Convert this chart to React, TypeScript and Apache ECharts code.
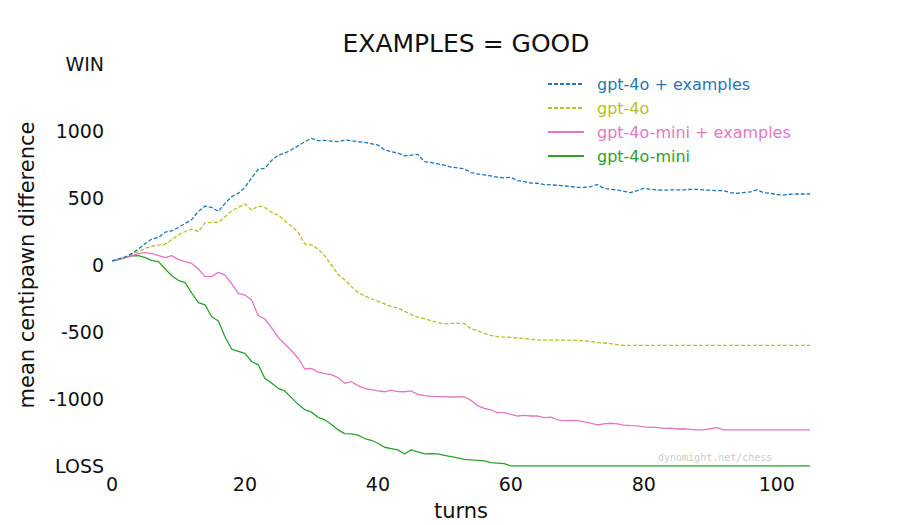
import React, { useEffect, useRef } from "react";
import * as echarts from "echarts";

const seriesNames = ["gpt-4o + examples", "gpt-4o", "gpt-4o-mini + examples", "gpt-4o-mini"];
const seriesColors = ["#1f77b4", "#bcbd22", "#e377c2", "#2ca02c"];
const seriesDashed = [true, true, false, false];

const gpt4oExamples = [
  30, 45, 60, 85, 120, 160, 195, 205, 245, 255, 280, 310, 340, 400, 440, 430, 400, 460, 510, 535,
  580, 650, 715, 722, 780, 820, 835, 860, 890, 920, 945, 928, 930, 925, 920, 933, 928, 920, 915, 905,
  895, 860, 845, 835, 815, 820, 826, 771, 765, 755, 745, 730, 725, 718, 690, 680, 672, 665, 655, 650,
  655, 630, 622, 612, 610, 600, 598, 595, 590, 585, 580, 580, 585, 600, 572, 565, 560, 550, 540, 555,
  572, 565, 560, 558, 560, 560, 560, 565, 565, 560, 558, 555, 555, 540, 535, 540, 545, 560, 540, 535,
  525, 522, 528, 530, 530, 530,
];
const gpt4o = [
  30, 45, 60, 85, 100, 125, 140, 148, 155, 190, 225, 250, 268, 249, 316, 318, 318, 360, 403, 430,
  455, 410, 440, 430, 393, 373, 330, 290, 245, 157, 150, 120, 70, 0, -70, -110, -160, -205, -230, -252,
  -270, -290, -310, -322, -345, -370, -390, -400, -415, -430, -440, -435, -435, -437, -475, -490, -510, -525, -535, -538,
  -540, -545, -548, -555, -560, -560, -560, -560, -560, -560, -562, -566, -572, -578, -582, -586, -594, -600, -600, -600,
  -600, -600, -600, -600, -600, -600, -600, -600, -600, -600, -600, -600, -600, -600, -600, -600, -600, -600, -600, -600,
  -600, -600, -600, -600, -600, -600,
];
const gpt4oMiniExamples = [
  30, 40, 55, 70, 85, 92, 85, 70, 55, 70, 40, 25, 12, -30, -87, -87, -55, -75, -140, -211,
  -224, -261, -378, -403, -470, -540, -590, -640, -696, -776, -771, -800, -810, -818, -840, -883, -871, -900, -921, -930,
  -940, -946, -933, -945, -946, -940, -965, -975, -980, -982, -983, -985, -985, -983, -1010, -1050, -1070, -1082, -1102, -1102,
  -1115, -1127, -1122, -1127, -1127, -1139, -1135, -1155, -1162, -1160, -1162, -1170, -1180, -1194, -1185, -1181, -1185, -1195, -1199, -1200,
  -1208, -1211, -1212, -1220, -1218, -1224, -1222, -1226, -1230, -1231, -1222, -1214, -1231, -1231, -1231, -1231, -1231, -1231, -1231, -1231,
  -1231, -1231, -1231, -1231, -1231, -1231,
];
const gpt4oMini = [
  30, 40, 55, 68, 70, 55, 32, 25, -30, -80, -115, -132, -210, -280, -298, -386, -418, -535, -627, -645,
  -659, -720, -745, -846, -880, -920, -940, -990, -1040, -1080, -1098, -1137, -1155, -1190, -1230, -1258, -1260, -1270, -1295, -1308,
  -1330, -1360, -1370, -1380, -1410, -1380, -1395, -1410, -1408, -1410, -1420, -1430, -1440, -1450, -1455, -1458, -1462, -1475, -1478, -1482,
  -1500, -1500, -1500, -1500, -1500, -1500, -1500, -1500, -1500, -1500, -1500, -1500, -1500, -1500, -1500, -1500, -1500, -1500, -1500, -1500,
  -1500, -1500, -1500, -1500, -1500, -1500, -1500, -1500, -1500, -1500, -1500, -1500, -1500, -1500, -1500, -1500, -1500, -1500, -1500, -1500,
  -1500, -1500, -1500, -1500, -1500, -1500,
];
const allValues = [gpt4oExamples, gpt4o, gpt4oMiniExamples, gpt4oMini];

const xTicks = [0, 20, 40, 60, 80, 100];
const yTickLabels: Record<number, string> = { 1500: "WIN", [-1500]: "LOSS" };

const FONT = "DejaVu Sans";

export default function App() {
  const ref = useRef<HTMLDivElement>(null);
  useEffect(() => {
    document.body.style.margin = "0";
    if (!ref.current) return;
    const chart = echarts.init(ref.current, undefined, { renderer: "svg" });
    const series = allValues.map((vals, i) => ({
      name: seriesNames[i],
      type: "line",
      data: vals.map((v, t) => [t, v]),
      showSymbol: false,
      symbol: "none",
      lineStyle: {
        color: seriesColors[i],
        width: 1.3,
        type: seriesDashed[i] ? [4, 2] : "solid",
      },
      itemStyle: { color: seriesColors[i] },
      z: 10 - i,
    }));
    chart.setOption({
      animation: false,
      backgroundColor: "#ffffff",
      title: {
        text: "EXAMPLES = GOOD",
        left: 461,
        textAlign: "center",
        top: 26,
        textStyle: { fontFamily: FONT, fontWeight: "normal", fontSize: 25, color: "#111" },
      },
      legend: {
        orient: "vertical",
        left: 542,
        top: 71,
        itemWidth: 36,
        itemHeight: 10,
        itemGap: 8,
        itemStyle: { opacity: 0 },
        data: seriesNames.map((n, i) => ({ name: n, textStyle: { color: seriesColors[i] } })),
        textStyle: { fontFamily: FONT, fontSize: 16, padding: [0, 0, 0, 8] },
      },
      grid: { left: 112, right: 90, top: 64, bottom: 59, containLabel: false, outerBoundsMode: "none" },
      xAxis: {
        type: "value",
        min: 0,
        max: 105,
        interval: 20,
        name: "turns",
        nameLocation: "middle",
        nameGap: 34,
        nameTextStyle: { fontFamily: FONT, fontSize: 21, color: "#111" },
        axisLine: { show: false },
        axisTick: { show: false },
        splitLine: { show: false },
        axisLabel: {
          fontFamily: FONT,
          fontSize: 19,
          color: "#111",
          margin: 8,
          showMaxLabel: false,
          formatter: (v: number) => (xTicks.includes(v) ? String(v) : ""),
        },
      },
      yAxis: {
        type: "value",
        min: -1500,
        max: 1500,
        interval: 500,
        name: "mean centipawn difference",
        nameLocation: "middle",
        nameGap: 71,
        nameTextStyle: { fontFamily: FONT, fontSize: 21, color: "#111" },
        axisLine: { show: false },
        axisTick: { show: false },
        splitLine: { show: false },
        axisLabel: {
          fontFamily: FONT,
          fontSize: 19,
          color: "#111",
          margin: 8,
          formatter: (v: number) => yTickLabels[v] ?? String(v),
        },
      },
      graphic: [
        {
          type: "text",
          left: 658,
          top: 452,
          style: {
            text: "dynomight.net/chess",
            fontFamily: "DejaVu Sans Mono",
            fontSize: 10,
            fill: "#cccccc",
          },
        },
      ],
      series,
    });
    return () => chart.dispose();
  }, []);
  return <div ref={ref} style={{ width: 900, height: 525 }} />;
}
